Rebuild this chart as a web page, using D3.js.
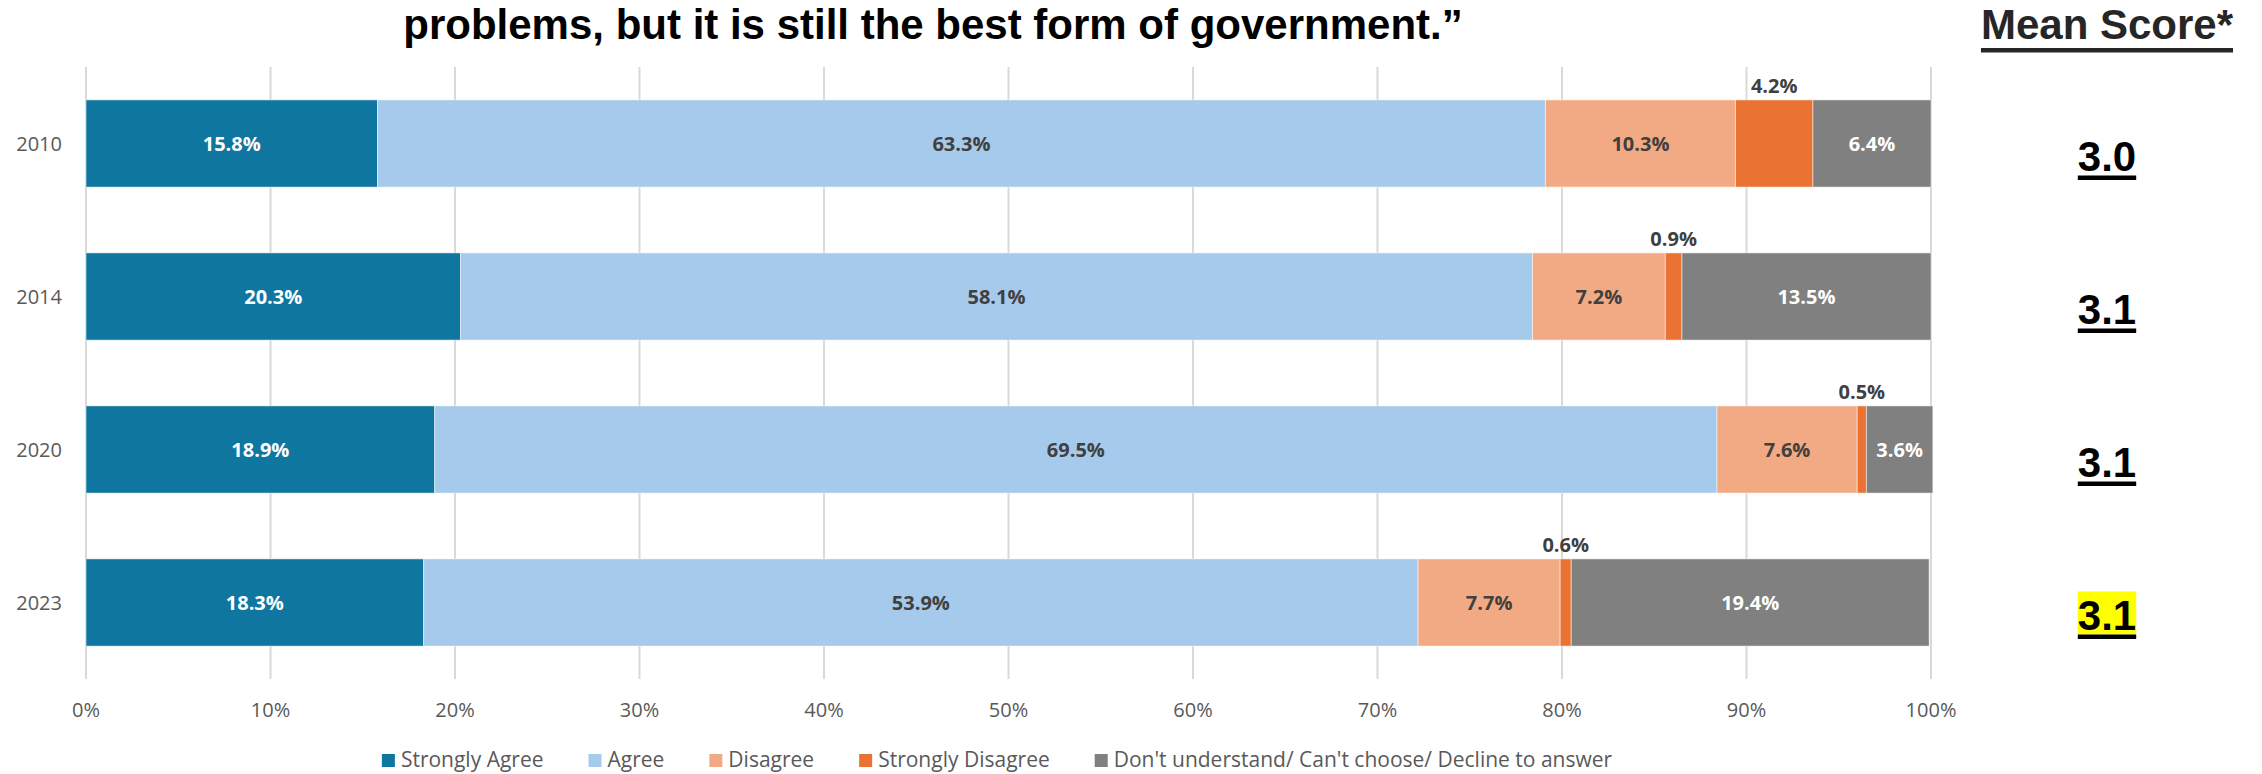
<!DOCTYPE html>
<html>
<head>
<meta charset="utf-8">
<script src="https://cdn.jsdelivr.net/npm/d3@7"></script>
<style>
  html, body { margin: 0; padding: 0; background: #fff; }
  svg { display: block; }
</style>
</head>
<body>
<div id="chart"></div>
<script>
// stacked bar of survey answers per year, with mean score column on the right

var years = ["2010", "2014", "2020", "2023"];
var seriesNames = ["Strongly Agree", "Agree", "Disagree", "Strongly Disagree",
    "Don't understand/ Can't choose/ Decline to answer"];
var stronglyAgree = [15.8, 20.3, 18.9, 18.3];
var agree = [63.3, 58.1, 69.5, 53.9];
var disagree = [10.3, 7.2, 7.6, 7.7];
var stronglyDisagree = [4.2, 0.9, 0.5, 0.6];
var dontKnow = [6.4, 13.5, 3.6, 19.4];
var meanScores = ["3.0", "3.1", "3.1", "3.1"];
var xTicks = [0, 10, 20, 30, 40, 50, 60, 70, 80, 90, 100];

var colors = ["#0F76A0", "#A6CAEB", "#F2AA84", "#EA7232", "#808080"];
var labelColors = ["#ffffff", "#404040", "#404040", "#404040", "#ffffff"];

var W = 2262, H = 774;
var plot = { left: 86, right: 1931, top: 67, bottom: 679 };
var labelFont = "'Open Sans', sans-serif";
var titleFont = "'Liberation Sans', Arial, sans-serif";

// build rows for d3.stack
var rows = years.map(function(y, i) {
    var r = { year: y };
    r[seriesNames[0]] = stronglyAgree[i];
    r[seriesNames[1]] = agree[i];
    r[seriesNames[2]] = disagree[i];
    r[seriesNames[3]] = stronglyDisagree[i];
    r[seriesNames[4]] = dontKnow[i];
    return r;
});
var stacked = d3.stack().keys(seriesNames)(rows);

var svg = d3.select("#chart").append("svg")
    .attr("width", W)
    .attr("height", H);

var x = d3.scaleLinear().domain([0, 100]).range([plot.left, plot.right]);
var y = d3.scaleBand().domain(years).range([plot.top, plot.bottom])
    .paddingInner(0.43).paddingOuter(0.215);

/*** TITLE (second line, first line is cut off) */
svg.append("text")
    .attr("x", 933).attr("y", 39)
    .attr("text-anchor", "middle")
    .style("font-family", titleFont)
    .style("font-weight", "bold")
    .style("font-size", "42px")
    .style("fill", "#000")
    .text("problems, but it is still the best form of government.\u201d");

/*** GRIDLINES */
svg.append("g").selectAll("line")
    .data(xTicks)
    .enter().append("line")
    .attr("x1", d => x(d)).attr("x2", d => x(d))
    .attr("y1", plot.top).attr("y2", plot.bottom)
    .attr("stroke", "#D9D9D9")
    .attr("stroke-width", 2);

/*** X AXIS LABELS */
svg.append("g").selectAll("text")
    .data(xTicks)
    .enter().append("text")
    .attr("x", d => x(d))
    .attr("y", 717)
    .attr("text-anchor", "middle")
    .style("font-family", labelFont)
    .style("font-size", "20px")
    .style("fill", "#595959")
    .text(d => d + "%");

/*** Y LABELS */
svg.append("g").selectAll("text")
    .data(years)
    .enter().append("text")
    .attr("x", 62)
    .attr("y", d => y(d) + y.bandwidth() / 2)
    .attr("dy", "0.35em")
    .attr("text-anchor", "end")
    .style("font-family", labelFont)
    .style("font-size", "20px")
    .style("fill", "#595959")
    .text(d => d);

/*** BARS */
var layers = svg.append("g").selectAll("g")
    .data(stacked)
    .enter().append("g")
    .attr("fill", (d, i) => colors[i]);

layers.selectAll("rect")
    .data(d => d)
    .enter().append("rect")
    .attr("x", d => x(d[0]))
    .attr("y", d => y(d.data.year))
    .attr("width", d => x(d[1]) - x(d[0]))
    .attr("height", y.bandwidth())
    .attr("stroke", "#ffffff")
    .attr("stroke-opacity", 0.5)
    .attr("stroke-width", 1);

/*** DATA LABELS */
stacked.forEach(function(layer, si) {
    var above = si === 3; // strongly disagree labels sit over the bar
    svg.append("g").selectAll("text")
        .data(layer)
        .enter().append("text")
        .attr("x", d => (x(d[0]) + x(d[1])) / 2)
        .attr("y", d => above ? y(d.data.year) - 7 : y(d.data.year) + y.bandwidth() / 2)
        .attr("dy", above ? "0" : "0.35em")
        .attr("text-anchor", "middle")
        .style("font-family", labelFont)
        .style("font-weight", "bold")
        .style("font-size", "20px")
        .style("fill", above ? "#404040" : labelColors[si])
        .text(d => (d[1] - d[0]).toFixed(1) + "%");
});

/*** MEAN SCORE COLUMN */
var meanX = 2107;
var head = svg.append("text")
    .attr("x", meanX).attr("y", 39)
    .attr("text-anchor", "middle")
    .style("font-family", titleFont)
    .style("font-weight", "bold")
    .style("font-size", "42px")
    .style("fill", "#262626")
    .text("Mean Score*");
var hw = head.node().getComputedTextLength();
svg.append("rect")
    .attr("x", meanX - hw / 2).attr("y", 48)
    .attr("width", hw).attr("height", 4.5)
    .attr("fill", "#262626");

years.forEach(function(yr, i) {
    var base = y(yr) + y.bandwidth() / 2 + 27;
    var g = svg.append("g");
    var t = g.append("text")
        .attr("x", meanX).attr("y", base)
        .attr("text-anchor", "middle")
        .style("font-family", titleFont)
        .style("font-weight", "bold")
        .style("font-size", "42px")
        .style("fill", "#000")
        .text(meanScores[i]);
    var tw = t.node().getComputedTextLength();
    if (i === years.length - 1) {
        g.insert("rect", "text")
            .attr("x", meanX - tw / 2).attr("y", base - 38)
            .attr("width", tw).attr("height", 43)
            .attr("fill", "#FFFF00");
    }
    g.append("rect")
        .attr("x", meanX - tw / 2).attr("y", base + 5)
        .attr("width", tw).attr("height", 4.5)
        .attr("fill", "#000");
});

/*** LEGEND */
var legend = svg.append("g");
var lx = 0;
seriesNames.forEach(function(name, i) {
    var item = legend.append("g").attr("transform", "translate(" + lx + ",0)");
    item.append("rect")
        .attr("x", 0).attr("y", -13)
        .attr("width", 13).attr("height", 13)
        .attr("fill", colors[i]);
    var t = item.append("text")
        .attr("x", 19).attr("y", 0)
        .style("font-family", labelFont)
        .style("font-size", "21px")
        .style("fill", "#595959")
        .text(name);
    lx += 19 + t.node().getComputedTextLength() + 45;
});
var legendW = lx - 45;
legend.attr("transform", "translate(" + (997 - legendW / 2) + ",767)");
</script>
</body>
</html>
